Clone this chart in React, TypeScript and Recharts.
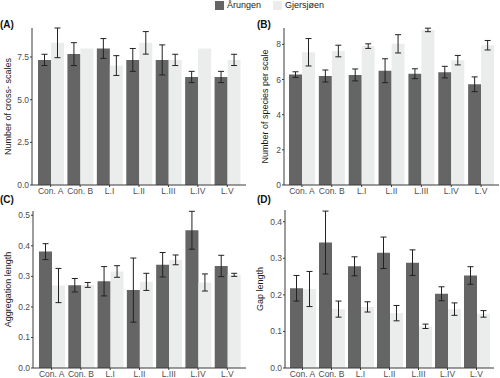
import { BarChart, Bar, XAxis, YAxis, ErrorBar } from 'recharts';

const categories = ['Con. A', 'Con. B', 'L.I', 'L.II', 'L.III', 'L.IV', 'L.V'];
const seriesNames = ['Årungen', 'Gjersjøen'];

// (A) number of cross-scales
const crossArungen = [7.33, 7.67, 8.0, 7.33, 7.33, 6.33, 6.33];
const crossArungenSe = [0.33, 0.67, 0.58, 0.67, 0.88, 0.33, 0.33];
const crossGjersjoen = [8.33, 8.0, 7.0, 8.33, 7.33, 8.0, 7.33];
const crossGjersjoenSe = [0.87, 0, 0.58, 0.66, 0.33, 0, 0.33];

// (B) number of species per scale
const speciesArungen = [6.28, 6.2, 6.26, 6.5, 6.33, 6.42, 5.73];
const speciesArungenSe = [0.16, 0.34, 0.34, 0.68, 0.28, 0.33, 0.42];
const speciesGjersjoen = [7.55, 7.62, 7.9, 8.03, 8.82, 7.1, 7.95];
const speciesGjersjoenSe = [0.78, 0.33, 0.13, 0.52, 0.1, 0.27, 0.27];

// (C) aggregation length
const aggArungen = [0.381, 0.271, 0.284, 0.255, 0.338, 0.451, 0.334];
const aggArungenSe = [0.026, 0.022, 0.048, 0.105, 0.04, 0.062, 0.035];
const aggGjersjoen = [0.27, 0.272, 0.316, 0.282, 0.354, 0.28, 0.305];
const aggGjersjoenSe = [0.056, 0.008, 0.019, 0.028, 0.016, 0.028, 0.005];

// (D) gap length
const gapArungen = [0.218, 0.343, 0.278, 0.315, 0.288, 0.203, 0.253];
const gapArungenSe = [0.035, 0.086, 0.026, 0.043, 0.035, 0.019, 0.024];
const gapGjersjoen = [0.216, 0.161, 0.167, 0.15, 0.114, 0.161, 0.148];
const gapGjersjoenSe = [0.048, 0.022, 0.014, 0.021, 0.006, 0.017, 0.009];

const DARK = '#656565';
const LIGHT = '#ebeded';
const AXIS = '#3a3a3a';
const TICK = '#4d4d4d';
const FONT = '"Liberation Sans", Arial, sans-serif';

const build = (a: number[], ae: number[], g: number[], ge: number[]) =>
  categories.map((name, i) => ({ name, a: a[i], ae: ae[i], g: g[i], ge: ge[i] }));

// plain grey tick text, x axis below the line, y axis left of it
const XTick = ({ x, y, payload }: any) => (
  <text x={x} y={y + 6} textAnchor="middle" fill={TICK} fontSize={8.5} fontFamily={FONT}>
    {payload.value}
  </text>
);

const makeYTick = (digits: number) => ({ x, y, payload }: any) => (
  <text x={x} y={y + 3} textAnchor="end" fill={TICK} fontSize={8.5} fontFamily={FONT}>
    {Number(payload.value).toFixed(digits)}
  </text>
);

interface PanelProps {
  tag: string;
  tagX: number;
  tagY: number;
  data: ReturnType<typeof build>;
  left: number;
  top: number;
  height: number;
  marginTop: number;
  marginRight: number;
  yWidth: number;
  xHeight: number;
  max: number;
  ticks: number[];
  digits: number;
  yLabel: string;
  labelX: number;
  pad: number;
}

const Panel = (p: PanelProps) => (
  <div style={{ position: 'absolute', left: p.left, top: p.top }}>
    <BarChart
      width={250}
      height={p.height}
      data={p.data}
      margin={{ top: p.marginTop, right: p.marginRight, bottom: 0, left: 0 }}
      barGap={0}
      barSize={13}
    >
      <XAxis
        dataKey="name"
        height={p.xHeight}
        tickSize={2}
        tickMargin={1}
        interval={0}
        padding={{ left: p.pad, right: p.pad }}
        stroke={AXIS}
        tick={XTick}
      />
      <YAxis
        width={p.yWidth}
        domain={[0, p.max]}
        ticks={p.ticks}
        tickSize={2}
        tickMargin={1}
        stroke={AXIS}
        tick={makeYTick(p.digits)}
        label={{
          value: p.yLabel,
          angle: -90,
          position: 'insideLeft',
          offset: p.labelX,
          style: { textAnchor: 'middle', fontSize: 9, fill: '#1a1a1a', fontFamily: FONT },
        }}
      />
      <Bar dataKey="a" fill={DARK} isAnimationActive={false}>
        <ErrorBar dataKey="ae" width={3} stroke="#222" strokeWidth={1} />
      </Bar>
      <Bar dataKey="g" fill={LIGHT} isAnimationActive={false}>
        <ErrorBar dataKey="ge" width={3} stroke="#222" strokeWidth={1} />
      </Bar>
    </BarChart>
    <div
      style={{
        position: 'absolute',
        left: p.tagX,
        top: p.tagY,
        fontFamily: FONT,
        fontSize: 10,
        fontWeight: 'bold',
        color: '#111',
        lineHeight: '12px',
      }}
    >
      {p.tag}
    </div>
  </div>
);

export default function App() {
  const legendText = { fontFamily: FONT, fontSize: 9, color: '#222', lineHeight: '10px' };
  return (
    <div style={{ position: 'absolute', left: 0, top: 0, width: 500, height: 378, background: '#fff', overflow: 'hidden' }}>
      <div style={{ position: 'absolute', left: 215, top: 0, display: 'flex', alignItems: 'center' }}>
        <span style={{ width: 9, height: 9, background: DARK, display: 'inline-block', marginRight: 3 }} />
        <span style={legendText}>{seriesNames[0]}</span>
        <span style={{ width: 9, height: 9, background: LIGHT, display: 'inline-block', marginLeft: 12, marginRight: 3 }} />
        <span style={legendText}>{seriesNames[1]}</span>
      </div>
      <Panel
        tag="(A)"
        tagX={0}
        tagY={19}
        data={build(crossArungen, crossArungenSe, crossGjersjoen, crossGjersjoenSe)}
        left={0}
        top={0}
        height={205}
        marginTop={28}
        marginRight={4}
        yWidth={32}
        xHeight={20}
        max={9.2}
        ticks={[0, 2.5, 5, 7.5]}
        digits={1}
        yLabel="Number of cross- scales"
        labelX={8}
        pad={4}
      />
      <Panel
        tag="(B)"
        tagX={7}
        tagY={19}
        data={build(speciesArungen, speciesArungenSe, speciesGjersjoen, speciesGjersjoenSe)}
        left={250}
        top={0}
        height={205}
        marginTop={28}
        marginRight={1}
        yWidth={34}
        xHeight={20}
        max={8.93}
        ticks={[0, 2, 4, 6, 8]}
        digits={0}
        yLabel="Number of species per scale"
        labelX={15}
        pad={3}
      />
      <Panel
        tag="(C)"
        tagX={0}
        tagY={5}
        data={build(aggArungen, aggArungenSe, aggGjersjoen, aggGjersjoenSe)}
        left={0}
        top={189}
        height={189}
        marginTop={22}
        marginRight={4}
        yWidth={33}
        xHeight={10}
        max={0.514}
        ticks={[0, 0.1, 0.2, 0.3, 0.4, 0.5]}
        digits={1}
        yLabel="Aggregation length"
        labelX={8}
        pad={4}
      />
      <Panel
        tag="(D)"
        tagX={7}
        tagY={5}
        data={build(gapArungen, gapArungenSe, gapGjersjoen, gapGjersjoenSe)}
        left={250}
        top={189}
        height={189}
        marginTop={21}
        marginRight={6}
        yWidth={35}
        xHeight={10}
        max={0.432}
        ticks={[0, 0.1, 0.2, 0.3, 0.4]}
        digits={1}
        yLabel="Gap length"
        labelX={10}
        pad={3}
      />
    </div>
  );
}
